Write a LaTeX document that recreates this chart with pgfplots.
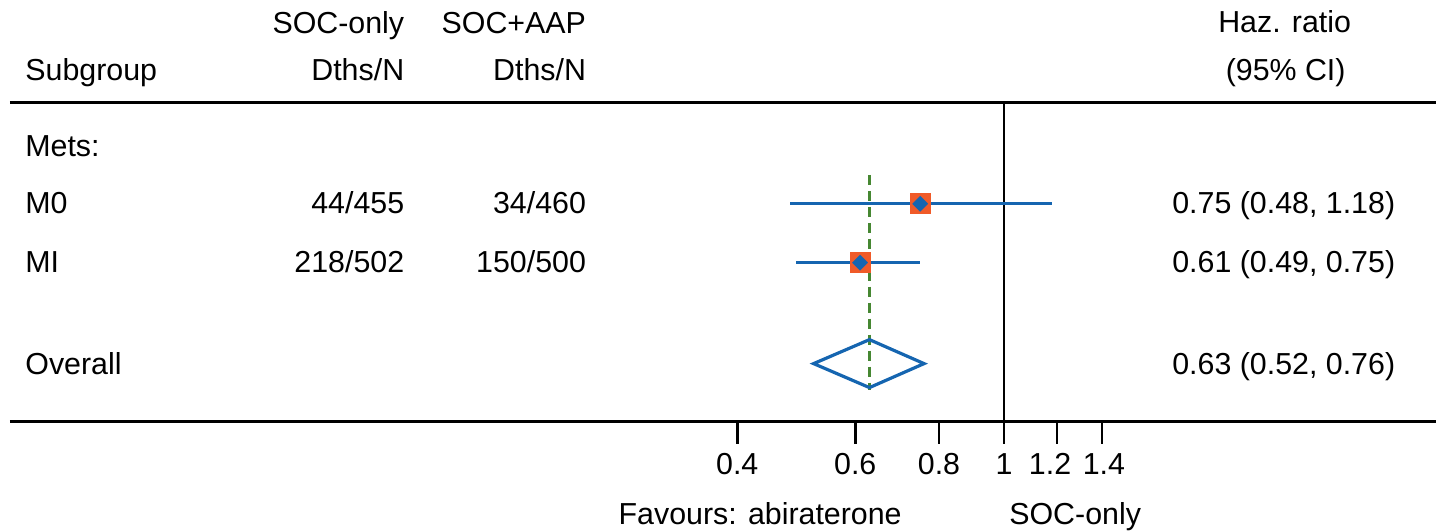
\documentclass[border=0pt]{standalone}
\usepackage{fontspec}
\setmainfont{Liberation Sans}
\usepackage{pgfplots}
\pgfplotsset{compat=1.18}
\definecolor{fblue}{RGB}{21,101,176}
\definecolor{forange}{RGB}{240,90,40}
\definecolor{fgreen}{RGB}{70,135,50}
\newcommand{\ff}{\fontsize{15.2}{18}\selectfont}
\begin{document}
\begin{tikzpicture}
\pgfplotsset{base/.style={scale only axis, width=713.5pt, height=159.5pt,
  ymin=-422, ymax=-103, clip=false, at={(0,0)}, anchor=south west}}
\tikzset{t/.style={font=\ff, inner sep=0pt}}
% text / layout axis in pixel units
\begin{axis}[base, xmin=10, xmax=1437, hide axis]
\path (axis cs:0,0) -- (axis cs:1437,-529);
\addplot[black, line width=1.5pt, forget plot] coordinates {(10,-103) (1437,-103)};
\node[t, anchor=base east] at (axis cs:405,-34) {SOC-only};
\node[t, anchor=base east] at (axis cs:587,-34) {SOC+AAP};
\node[t, anchor=base] at (axis cs:1286,-33) {Haz. ratio};
\node[t, anchor=base west] at (axis cs:25,-81) {Subgroup};
\node[t, anchor=base east] at (axis cs:405,-81) {Dths/N};
\node[t, anchor=base east] at (axis cs:587,-81) {Dths/N};
\node[t, anchor=base] at (axis cs:1287,-81) {(95\% CI)};
\node[t, anchor=base west] at (axis cs:25,-157) {Mets:};
\node[t, anchor=base west] at (axis cs:25,-214) {M0};
\node[t, anchor=base east] at (axis cs:405,-214) {44/455};
\node[t, anchor=base east] at (axis cs:587,-214) {34/460};
\node[t, anchor=base east] at (axis cs:1397,-214) {0.75 (0.48, 1.18)};
\node[t, anchor=base west] at (axis cs:25,-273) {MI};
\node[t, anchor=base east] at (axis cs:405,-273) {218/502};
\node[t, anchor=base east] at (axis cs:587,-273) {150/500};
\node[t, anchor=base east] at (axis cs:1397,-273) {0.61 (0.49, 0.75)};
\node[t, anchor=base west] at (axis cs:25,-375) {Overall};
\node[t, anchor=base east] at (axis cs:1397,-375) {0.63 (0.52, 0.76)};
\node[t, anchor=base east] at (axis cs:903,-525) {Favours: abiraterone};
\node[t, anchor=base west] at (axis cs:1010,-525) {SOC-only};
\end{axis}
% data axis, log scale
\begin{axis}[base, xmode=log, xmin=0.032887, xmax=4.4041,
  axis x line*=bottom, axis y line=none,
  x axis line style={line width=1.5pt, black},
  xtick={0.4,0.6,0.8,1,1.2,1.4},
  xticklabels={0.4,0.6,0.8,1,\makebox[0pt]{1.2\kern7pt},\makebox[0pt]{\kern2pt 1.4}},
  minor xtick={},
  tick align=outside, major tick length=11pt,
  xtick style={black, line width=1.3pt},
  xticklabel style={font=\ff, inner sep=0pt, anchor=base, yshift=-15.5pt},
  /pgf/number format/assume math mode=true]
\addplot[black, line width=1.4pt] coordinates {(1,-103) (1,-422)};
\addplot[fgreen, line width=1.3pt, dash pattern=on 5pt off 3pt] coordinates {(0.63,-175) (0.63,-390)};
\addplot[fblue, line width=1.7pt] coordinates {(0.48,-204) (1.18,-204)};
\addplot[fblue, line width=1.7pt] coordinates {(0.49,-263) (0.75,-263)};
\addplot[only marks, mark=square*, mark size=5pt, forange, mark options={draw=forange, fill=forange}] coordinates {(0.75,-204) (0.61,-263)};
\addplot[only marks, mark=square*, mark size=2.6pt, fblue, mark options={draw=fblue, fill=fblue, rotate=45}] coordinates {(0.75,-204) (0.61,-263)};
\addplot[fblue, line width=1.6pt, line join=miter] coordinates {(0.52,-364) (0.63,-340) (0.76,-364) (0.63,-388)} -- cycle;
\end{axis}
\end{tikzpicture}
\end{document}
